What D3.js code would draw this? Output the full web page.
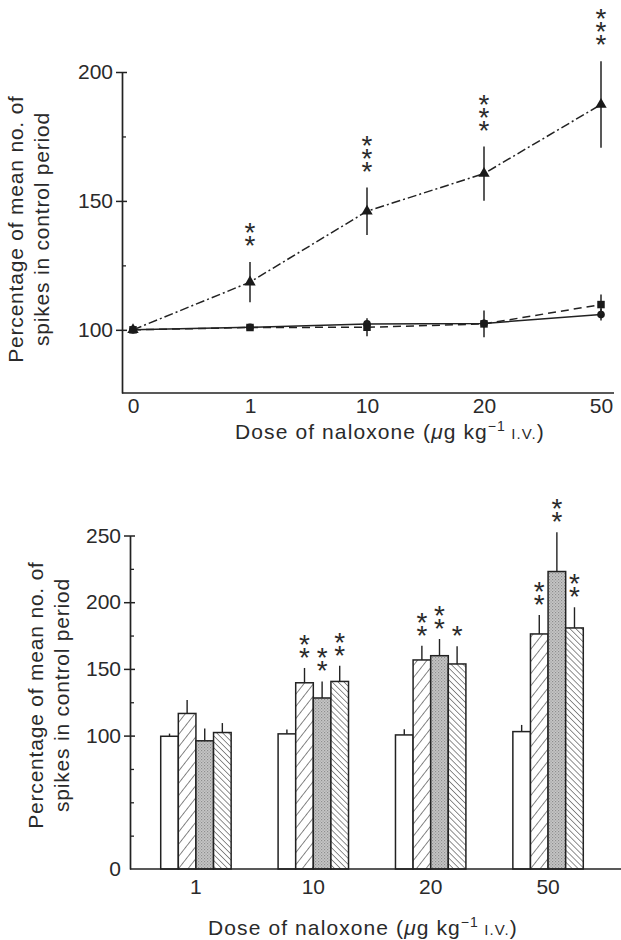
<!DOCTYPE html>
<html>
<head>
<meta charset="utf-8">
<script src="https://cdn.jsdelivr.net/npm/d3@7"></script>
<style>
  html, body { margin: 0; padding: 0; background: #ffffff; }
  svg { display: block; }
  text { font-family: "Liberation Sans", Arial, sans-serif; fill: #2a2a2a; }
  text.stars { writing-mode: vertical-rl; text-orientation: upright; }
</style>
</head>
<body>
<svg id="chart" width="621" height="940"></svg>
<script>
// ---------- Top panel data (line chart) ----------
const topDoses = ["0", "1", "10", "20", "50"];
const triMean = [100, 118.5, 146.0, 160.6, 187.4];
const triErr  = [0, 7.8, 9.2, 10.5, 16.8];
const triStars = [0, 2, 3, 3, 3];
const sqMean = [100, 100.9, 101.0, 102.3, 109.8];
const sqErr  = [0, 0.8, 3.5, 5.2, 3.9];
const circMean = [100, 101.0, 102.3, 102.5, 105.9];
const circErr  = [0, 0.5, 1.5, 1.5, 2.3];
const topYTicks = [100, 150, 200];
const topYMinor = [125, 175];

// ---------- Bottom panel data (grouped bars) ----------
const groups = ["1", "10", "20", "50"];
const seriesNames = ["open", "hatched", "stippled", "backhatched"];
const barMeans = {
  open:        [99.5, 101.3, 100.5, 103.0],
  hatched:     [116.6, 139.6, 156.7, 176.2],
  stippled:    [96.1, 128.2, 159.9, 223.0],
  backhatched: [102.3, 140.6, 153.7, 180.7]
};
const barErrs = {
  open:        [2.0, 3.3, 4.3, 5.0],
  hatched:     [10.0, 11.1, 10.7, 14.2],
  stippled:    [9.2, 12.4, 12.5, 29.5],
  backhatched: [7.1, 11.8, 13.2, 15.5]
};
const barStars = {
  open:        [0, 0, 0, 0],
  hatched:     [0, 2, 2, 2],
  stippled:    [0, 2, 2, 2],
  backhatched: [0, 2, 1, 2]
};
const botYTicks = [0, 100, 150, 200, 250];
const botYMinor = [25, 50, 75, 125, 175, 225];

const yTitleLines = ["Percentage of mean no. of", "spikes in control period"];

// ---------- Drawing ----------
const svg = d3.select("#chart");
const ink = "#222";
const FONT = "Liberation Sans, Arial, sans-serif";

const defs = svg.append("defs");
const p1 = defs.append("pattern").attr("id", "hatchF").attr("patternUnits", "userSpaceOnUse")
  .attr("width", 7.5).attr("height", 8).attr("patternTransform", "rotate(38)");
p1.append("rect").attr("width", 7.5).attr("height", 8).attr("fill", "#fff");
p1.append("line").attr("x1", 0).attr("y1", 0).attr("x2", 0).attr("y2", 8).attr("stroke", ink).attr("stroke-width", 1.1);
const p2 = defs.append("pattern").attr("id", "hatchB").attr("patternUnits", "userSpaceOnUse")
  .attr("width", 4.2).attr("height", 8).attr("patternTransform", "rotate(-45)");
p2.append("rect").attr("width", 4.2).attr("height", 8).attr("fill", "#fff");
p2.append("line").attr("x1", 0).attr("y1", 0).attr("x2", 0).attr("y2", 8).attr("stroke", ink).attr("stroke-width", 1);
const p3 = defs.append("pattern").attr("id", "stipple").attr("patternUnits", "userSpaceOnUse")
  .attr("width", 3).attr("height", 3);
p3.append("rect").attr("width", 3).attr("height", 3).attr("fill", "#c6c6c6");
p3.append("rect").attr("x", 0).attr("y", 0).attr("width", 1.2).attr("height", 1.2).attr("fill", "#8e8e8e");
p3.append("rect").attr("x", 1.5).attr("y", 1.5).attr("width", 1.2).attr("height", 1.2).attr("fill", "#9c9c9c");

const fills = {
  open: "#ffffff",
  hatched: "url(#hatchF)",
  stippled: "url(#stipple)",
  backhatched: "url(#hatchB)"
};

function yTitle(g, xLine1, xLine2, cy) {
  [xLine1, xLine2].forEach((x, i) => {
    g.append("text")
      .attr("transform", `translate(${x},${cy}) rotate(-90)`)
      .attr("text-anchor", "middle")
      .attr("font-size", 21)
      .attr("letter-spacing", 0.8)
      .text(yTitleLines[i]);
  });
}

function xTitle(g, cx, y) {
  const t = g.append("text").attr("x", cx).attr("y", y).attr("text-anchor", "middle")
    .attr("font-size", 21).attr("letter-spacing", 1.1);
  t.append("tspan").text("Dose of naloxone (");
  t.append("tspan").attr("font-style", "italic").text("μ");
  t.append("tspan").text("g kg");
  t.append("tspan").attr("font-size", 14).attr("dy", -8).text("−1");
  t.append("tspan").attr("font-size", 15).attr("dy", 8).text(" I.V.");
  t.append("tspan").text(")");
}

// vertical stack of upright asterisks: one text per stack (vertical writing mode)
const STAR_FS = 28;
function stars(g, x, yBottomCenter, n) {
  g.append("text")
    .attr("class", "stars")
    .attr("x", x)
    .attr("y", yBottomCenter + 5)
    .attr("text-anchor", "end")
    .attr("font-size", STAR_FS)
    .attr("letter-spacing", -18)
    .text("*".repeat(n));
}

function styleTicks(ax) {
  ax.selectAll(".tick text").attr("font-size", 21).attr("fill", "#2a2a2a").attr("font-family", FONT);
}

// ===== Top panel =====
const yTop = d3.scaleLinear().domain([75.5, 200]).range([393, 72]);
const xTop = d3.scalePoint().domain(topDoses).range([133, 601]);
const gTop = svg.append("g");
const topLeft = 122, topRight = 614;

const yAxTop = gTop.append("g").attr("transform", `translate(${topLeft},0)`)
  .call(d3.axisLeft(yTop).tickValues(topYTicks).tickSize(6).tickSizeOuter(0).tickPadding(3));
yAxTop.select(".domain").attr("stroke", ink).attr("stroke-width", 1.7);
yAxTop.selectAll(".tick line").attr("stroke", ink).attr("stroke-width", 1.5).attr("x2", -6).attr("x1", 5);
styleTicks(yAxTop);
const yMinTop = gTop.append("g").attr("transform", `translate(${topLeft},0)`)
  .call(d3.axisRight(yTop).tickValues(topYMinor).tickSize(4).tickFormat(""));
yMinTop.select(".domain").remove();
yMinTop.selectAll(".tick line").attr("stroke", ink).attr("stroke-width", 1.3);

gTop.append("line").attr("x1", topLeft).attr("x2", topRight)
  .attr("y1", yTop.range()[0]).attr("y2", yTop.range()[0])
  .attr("stroke", ink).attr("stroke-width", 1.7);
const xAxTop = gTop.append("g").attr("transform", `translate(0,${yTop.range()[0]})`)
  .call(d3.axisBottom(xTop).tickSize(0).tickPadding(5));
xAxTop.select(".domain").remove();
styleTicks(xAxTop);

const topSeries = [
  { mean: circMean, err: circErr, dash: null, sym: d3.symbolCircle, size: 46 },
  { mean: sqMean, err: sqErr, dash: "8,5", sym: d3.symbolSquare, size: 56 },
  { mean: triMean, err: triErr, dash: "9,3,2,3", sym: d3.symbolTriangle, size: 56 }
];
const lineGen = d3.line().x(d => xTop(d.dose)).y(d => yTop(d.v));
topSeries.forEach(s => {
  const pts = topDoses.map((dose, i) => ({ dose, v: s.mean[i], e: s.err[i] }));
  gTop.append("path").datum(pts).attr("d", lineGen)
    .attr("fill", "none").attr("stroke", ink).attr("stroke-width", 1.5)
    .attr("stroke-dasharray", s.dash);
  gTop.selectAll(null).data(pts.filter(p => p.e > 0)).join("line")
    .attr("x1", d => xTop(d.dose)).attr("x2", d => xTop(d.dose))
    .attr("y1", d => yTop(d.v - d.e)).attr("y2", d => yTop(d.v + d.e))
    .attr("stroke", ink).attr("stroke-width", 1.5);
  gTop.selectAll(null).data(pts).join("path")
    .attr("transform", d => `translate(${xTop(d.dose)},${yTop(d.v)})`)
    .attr("d", d3.symbol(s.sym, s.size)).attr("fill", "#1a1a1a");
});
topDoses.forEach((dose, i) => {
  if (triStars[i] > 0) stars(gTop, xTop(dose), yTop(triMean[i] + triErr[i]) - 24, triStars[i]);
});

yTitle(gTop, 23, 49, 229);
xTitle(gTop, 390, 439);

// ===== Bottom panel =====
const yBot = d3.scaleLinear().domain([0, 250]).range([869, 535.5]);
const xBot = d3.scaleBand().domain(groups).range([125.5, 618.5]).paddingInner(0.4).paddingOuter(0.3);
const xSub = d3.scaleBand().domain(seriesNames).range([0, xBot.bandwidth()]);
const gBot = svg.append("g");
const botLeft = 130, botRight = 621;

const yAxBot = gBot.append("g").attr("transform", `translate(${botLeft},0)`)
  .call(d3.axisLeft(yBot).tickValues(botYTicks).tickSize(6).tickSizeOuter(0).tickPadding(3));
yAxBot.select(".domain").attr("stroke", ink).attr("stroke-width", 1.7);
yAxBot.selectAll(".tick line").attr("stroke", ink).attr("stroke-width", 1.5).attr("x2", -6).attr("x1", 5)
  .filter(d => d === 0).remove();
styleTicks(yAxBot);
const yMinBot = gBot.append("g").attr("transform", `translate(${botLeft},0)`)
  .call(d3.axisRight(yBot).tickValues(botYMinor).tickSize(4).tickFormat(""));
yMinBot.select(".domain").remove();
yMinBot.selectAll(".tick line").attr("stroke", ink).attr("stroke-width", 1.3);

const barData = [];
groups.forEach((g, gi) => seriesNames.forEach(s => barData.push({
  group: g, series: s, v: barMeans[s][gi], e: barErrs[s][gi], n: barStars[s][gi]
})));
const bx = d => xBot(d.group) + xSub(d.series);
gBot.selectAll(".err").data(barData).join("line").attr("class", "err")
  .attr("x1", d => bx(d) + xSub.bandwidth() / 2).attr("x2", d => bx(d) + xSub.bandwidth() / 2)
  .attr("y1", d => yBot(d.v)).attr("y2", d => yBot(d.v + d.e))
  .attr("stroke", ink).attr("stroke-width", 1.4);
gBot.selectAll(".bar").data(barData).join("rect").attr("class", "bar")
  .attr("x", d => bx(d)).attr("width", xSub.bandwidth())
  .attr("y", d => yBot(d.v)).attr("height", d => yBot(0) - yBot(d.v))
  .attr("fill", d => fills[d.series]).attr("stroke", ink).attr("stroke-width", 1.5);
barData.forEach(d => {
  if (d.n > 0) stars(gBot, bx(d) + xSub.bandwidth() / 2, yBot(d.v + d.e) - 18, d.n);
});

gBot.append("line").attr("x1", botLeft).attr("x2", botRight)
  .attr("y1", yBot(0)).attr("y2", yBot(0)).attr("stroke", ink).attr("stroke-width", 1.7);
const xAxBot = gBot.append("g").attr("transform", `translate(0,${yBot(0)})`)
  .call(d3.axisBottom(xBot).tickSize(0).tickPadding(10));
xAxBot.select(".domain").remove();
styleTicks(xAxBot);

yTitle(gBot, 43, 69, 695);
xTitle(gBot, 363, 935);
</script>
</body>
</html>
